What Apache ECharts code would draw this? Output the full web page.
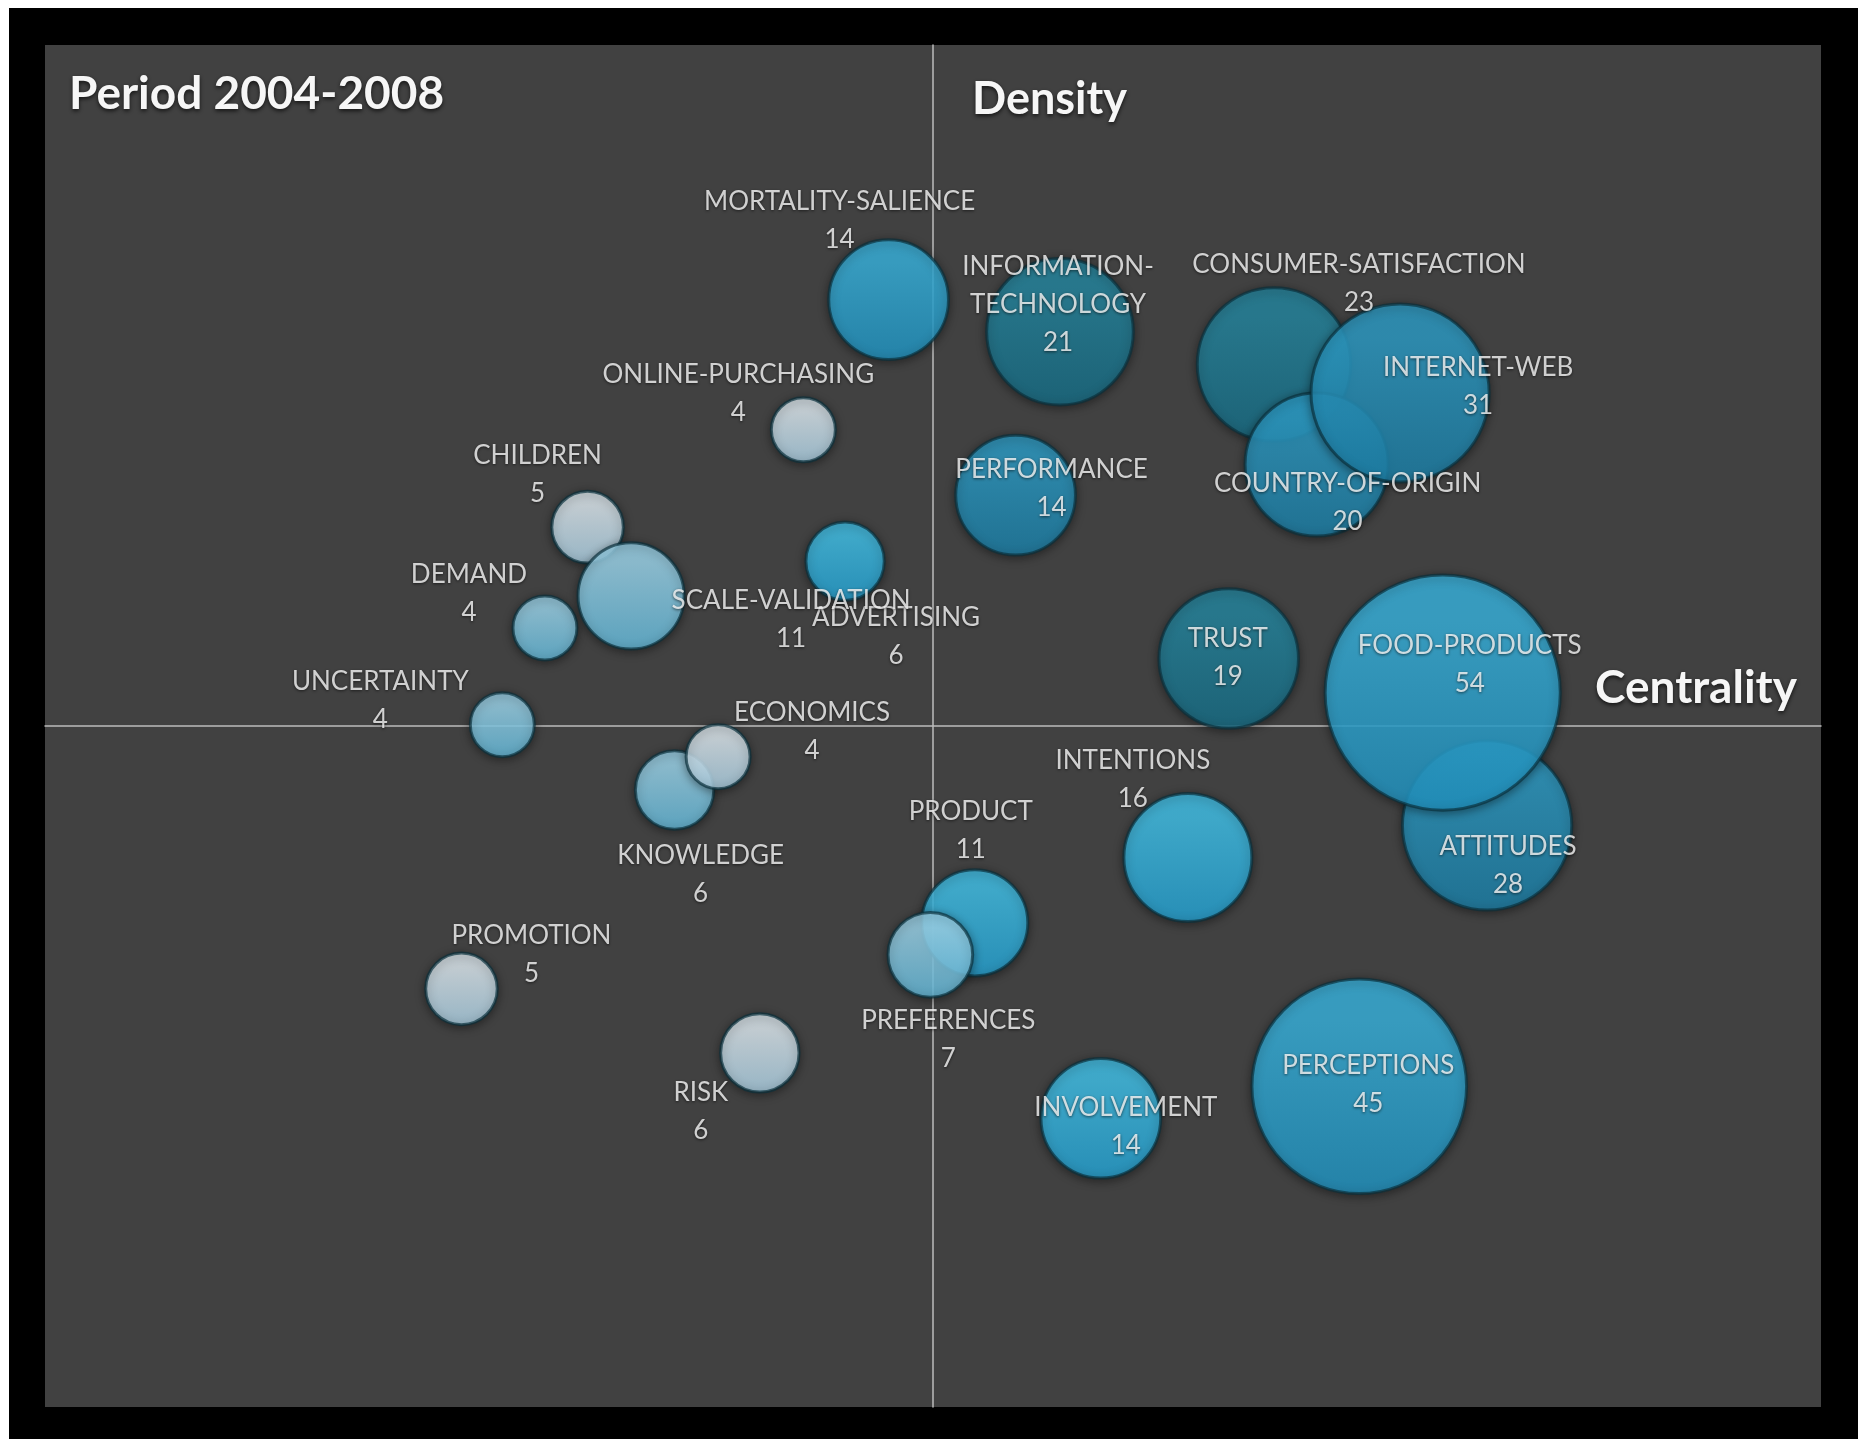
<!DOCTYPE html>
<html>
<head>
<meta charset="utf-8">
<title>Period 2004-2008 strategic diagram</title>
<script src="https://cdn.jsdelivr.net/npm/echarts@6/dist/echarts.min.js"></script>
<style>
  html, body { margin: 0; padding: 0; background: #ffffff; }
  #chart { position: absolute; left: 9px; top: 8px; width: 1849px; height: 1431px; }
</style>
</head>
<body>
<div id="chart"></div>
<script>
// Themes of the period, drawn back to front
const themes = [
  'MORTALITY-SALIENCE', 'INFORMATION-TECHNOLOGY', 'CONSUMER-SATISFACTION', 'COUNTRY-OF-ORIGIN',
  'INTERNET-WEB', 'ONLINE-PURCHASING', 'PERFORMANCE', 'CHILDREN', 'ADVERTISING', 'DEMAND',
  'SCALE-VALIDATION', 'TRUST', 'ATTITUDES', 'FOOD-PRODUCTS', 'UNCERTAINTY', 'KNOWLEDGE',
  'ECONOMICS', 'INTENTIONS', 'PRODUCT', 'PREFERENCES', 'PROMOTION', 'RISK', 'INVOLVEMENT',
  'PERCEPTIONS'
];
// Centrality (x) and density (y), relative to the median cross at 0
const centrality = [
  -5.0, 14.3, 38.4, 43.2, 52.6, -14.6, 9.3, -38.9, -9.9, -43.7,
  -34.0, 33.3, 62.4, 57.4, -48.5, -29.1, -24.2, 28.7, 4.7, -0.3,
  -53.1, -19.5, 18.9, 48.0
];
const density = [
  62.6, 57.9, 53.1, 38.4, 48.9, 43.5, 33.9, 29.2, 24.2, 14.4,
  19.1, 9.9, -14.6, 4.9, 0.2, -9.4, -4.5, -19.3, -28.9, -33.6,
  -38.6, -48.0, -57.6, -52.9
];
// Number of documents per theme
const documents = [
  14, 21, 23, 20, 31, 4, 14, 5, 6, 4,
  11, 19, 28, 54, 4, 6, 4, 16, 11, 7,
  5, 6, 14, 45
];

// Bubble shading by theme
const palettes = {
  pale:   ['#e8f4fb', '#b2d8ec'],
  light:  ['#a2ddf4', '#68c1e3'],
  bright: ['#44c8f1', '#27a8da'],
  mid:    ['#3bb8e4', '#2399c8'],
  teal:   ['#2fa1cc', '#1e84ad'],
  deep:   ['#278ba5', '#19718a']
};
const tone = {
  'ONLINE-PURCHASING': 'pale', 'CHILDREN': 'pale', 'ECONOMICS': 'pale', 'PROMOTION': 'pale', 'RISK': 'pale',
  'DEMAND': 'light', 'UNCERTAINTY': 'light', 'SCALE-VALIDATION': 'light', 'KNOWLEDGE': 'light', 'PREFERENCES': 'light',
  'ADVERTISING': 'bright', 'PRODUCT': 'bright', 'INTENTIONS': 'bright', 'INVOLVEMENT': 'bright',
  'MORTALITY-SALIENCE': 'mid', 'FOOD-PRODUCTS': 'mid', 'PERCEPTIONS': 'mid',
  'PERFORMANCE': 'teal', 'INTERNET-WEB': 'teal', 'COUNTRY-OF-ORIGIN': 'teal', 'ATTITUDES': 'teal',
  'INFORMATION-TECHNOLOGY': 'deep', 'CONSUMER-SATISFACTION': 'deep', 'TRUST': 'deep'
};
// Where each label block sits relative to its bubble centre (px)
const labelShift = {
  'MORTALITY-SALIENCE': [-49, -79], 'INFORMATION-TECHNOLOGY': [-2, -27], 'CONSUMER-SATISFACTION': [85, -81],
  'INTERNET-WEB': [78, -6], 'COUNTRY-OF-ORIGIN': [31, 38], 'ONLINE-PURCHASING': [-65, -36],
  'PERFORMANCE': [36, -7], 'CHILDREN': [-50, -53], 'ADVERTISING': [51, 75], 'SCALE-VALIDATION': [160, 24],
  'DEMAND': [-76, -34], 'TRUST': [-1, -1], 'FOOD-PRODUCTS': [27, -28], 'UNCERTAINTY': [-122, -24],
  'ECONOMICS': [94, -25], 'KNOWLEDGE': [26, 85], 'ATTITUDES': [21, 40], 'INTENTIONS': [-55, -78],
  'PRODUCT': [-4, -92], 'PREFERENCES': [18, 85], 'PROMOTION': [70, -34], 'RISK': [-59, 59],
  'INVOLVEMENT': [25, 8], 'PERCEPTIONS': [9, -2]
};
const wrapAfterHyphen = { 'INFORMATION-TECHNOLOGY': true };

const bubbles = themes.map((name, i) => {
  const p = palettes[tone[name]];
  return {
    name: name,
    value: [centrality[i], density[i], documents[i]],
    itemStyle: {
      color: new echarts.graphic.LinearGradient(0, 0, 0, 1, [
        { offset: 0, color: p[0] },
        { offset: 0.2, color: p[0] },
        { offset: 1, color: p[1] }
      ])
    },
    label: { offset: labelShift[name] }
  };
});

const chart = echarts.init(document.getElementById('chart'), null, { renderer: 'canvas' });
const textFont = 'Lato, "Open Sans", sans-serif';
const headShadow = { textShadowColor: 'rgba(0,0,0,0.7)', textShadowBlur: 4, textShadowOffsetY: 2 };

chart.setOption({
  backgroundColor: '#000000',
  animation: false,
  title: [
    { text: 'Period 2004-2008', left: 60, top: 63, padding: 0,
      textStyle: Object.assign({ color: '#f6f6f6', fontFamily: textFont, fontWeight: 'bold', fontSize: 46 }, headShadow) },
    { text: 'Density', left: 963, top: 69, padding: 0,
      textStyle: Object.assign({ color: '#f6f6f6', fontFamily: textFont, fontWeight: 'bold', fontSize: 45 }, headShadow) },
    { text: 'Centrality', left: 1586, top: 657, padding: 0,
      textStyle: Object.assign({ color: '#f6f6f6', fontFamily: textFont, fontWeight: 'bold', fontSize: 46 }, headShadow) }
  ],
  grid: {
    left: 36, top: 37, right: 37, bottom: 32,
    show: true, backgroundColor: '#414141', borderWidth: 0
  },
  xAxis: {
    type: 'value', min: -100, max: 100,
    axisLine: { show: true, onZero: true, lineStyle: { color: '#bcbcbc', width: 1.5 } },
    axisTick: { show: false }, axisLabel: { show: false }, splitLine: { show: false }
  },
  yAxis: {
    type: 'value', min: -100, max: 100,
    axisLine: { show: true, onZero: true, lineStyle: { color: '#bcbcbc', width: 1.5 } },
    axisTick: { show: false }, axisLabel: { show: false }, splitLine: { show: false }
  },
  series: [{
    type: 'scatter',
    data: bubbles,
    symbol: 'circle',
    symbolSize: (v) => 32 * Math.sqrt(v[2]),
    itemStyle: {
      borderColor: 'rgba(10,48,60,0.85)',
      borderWidth: 3,
      shadowBlur: 10,
      shadowColor: 'rgba(0,0,0,0.5)',
      shadowOffsetY: 2
    },
    label: {
      show: true,
      position: 'inside',
      formatter: (p) => {
        const n = wrapAfterHyphen[p.name] ? p.name.replace('-', '-\n') : p.name;
        return n + '\n' + p.value[2];
      },
      color: '#fafafa',
      fontFamily: textFont,
      fontSize: 26,
      lineHeight: 38,
      align: 'center',
      textShadowColor: 'rgba(0,0,0,0.75)',
      textShadowBlur: 3,
      textShadowOffsetY: 1
    },
    emphasis: { disabled: true }
  }]
});
</script>
</body>
</html>
